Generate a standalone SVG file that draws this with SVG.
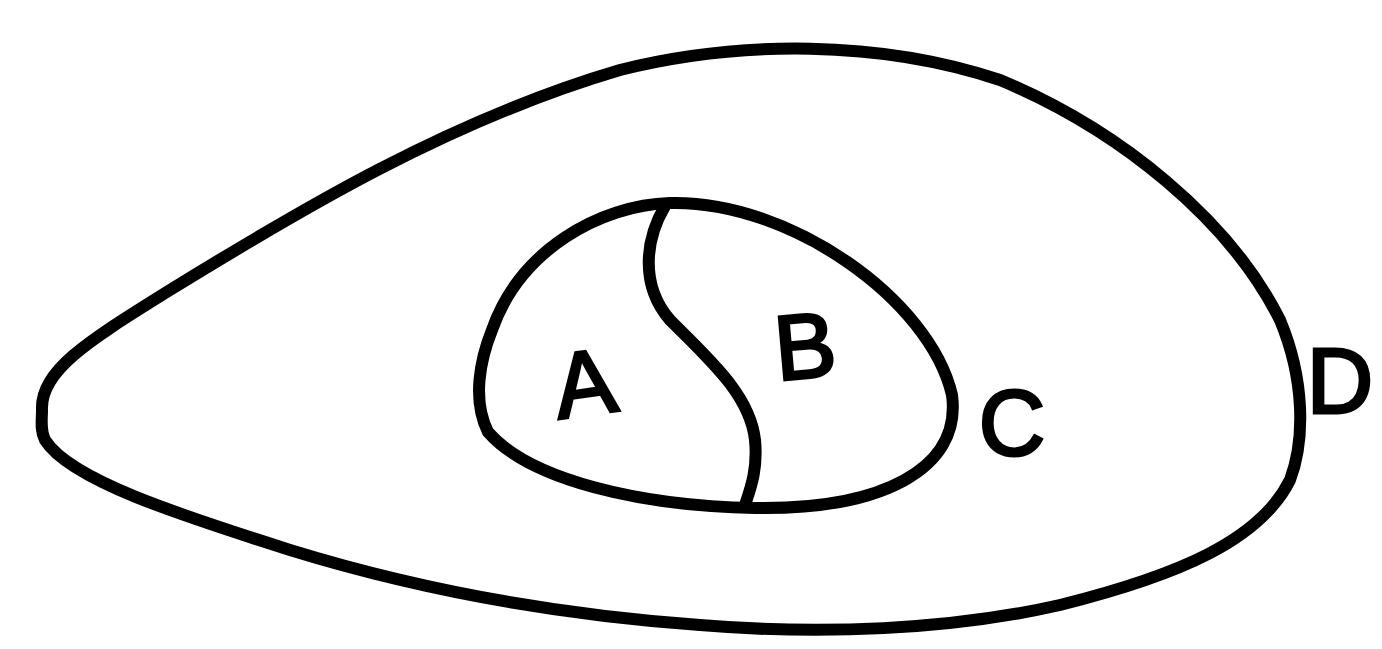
<svg xmlns="http://www.w3.org/2000/svg" width="1382" height="649" viewBox="0 0 1382 649">
<style>
.l{fill:none;stroke:#000;stroke-width:12;stroke-linecap:round;stroke-linejoin:round}
.t{font-family:"Liberation Sans",Arial,sans-serif;font-size:92px;fill:#000;stroke:#000;stroke-width:3;text-anchor:middle}
</style>
<rect width="1382" height="649" fill="#fff"/>
<g id="D">
<path class="l" d="M 42,410 C 40,370 90,340 170,290 C 300,210 450,120 620,70 C 740,40 880,40 1000,80 C 1120,130 1230,220 1280,320 C 1305,380 1305,440 1290,480 C 1260,540 1180,575 1060,605 C 950,630 820,635 700,625 C 560,615 420,590 290,550 C 180,515 70,480 45,440 C 40,430 42,420 42,410 Z"/>
<text class="t" x="1340" y="413">D</text>
</g>
<g id="C">
<path class="l" d="M 492,330 C 520,250 600,205 670,203 C 790,200 930,300 952,395 C 962,470 880,510 755,508 C 640,506 530,480 488,432 C 472,400 480,360 492,330 Z"/>
<text class="t" x="1012" y="455">C</text>
</g>
<g id="connectors">
<path class="l" d="M 665,206 C 645,240 640,285 670,320 C 710,360 750,395 755,440 C 758,470 750,490 745,505"/>
</g>
<g id="A"><text class="t" x="585" y="415" transform="rotate(-8 585 385)">A</text></g>
<g id="B"><text class="t" x="805" y="378" transform="rotate(-5 805 345)">B</text></g>
</svg>
